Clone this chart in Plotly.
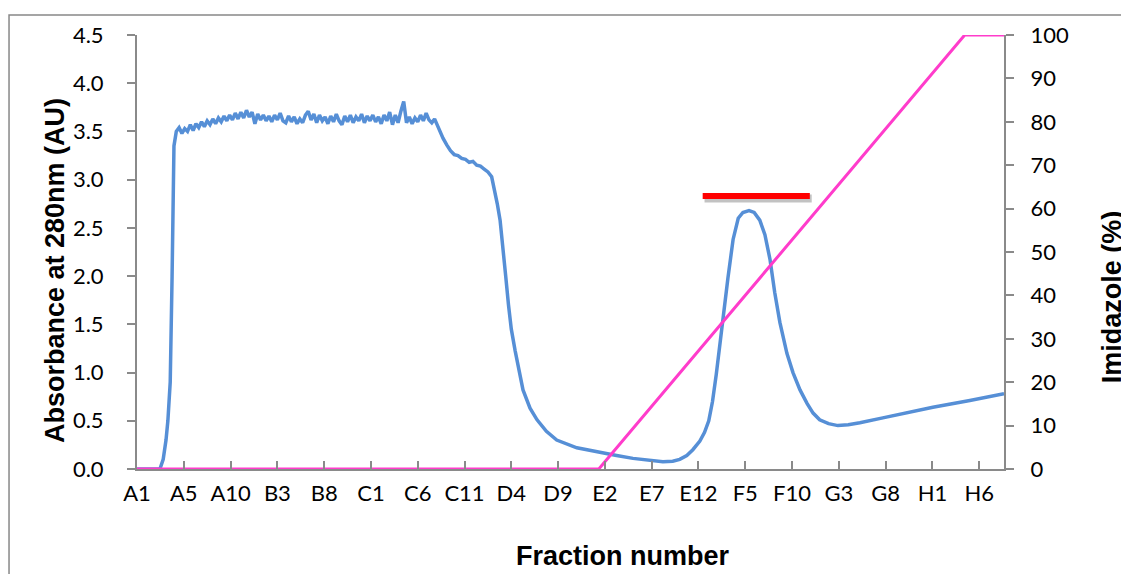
import plotly.graph_objects as go

# ---- data (x in fraction-label positions: 0 = A1, 1 = A5, ... 18 = H6) ----
fraction_labels = ["A1", "A5", "A10", "B3", "B8", "C1", "C6", "C11", "D4", "D9",
                   "E2", "E7", "E12", "F5", "F10", "G3", "G8", "H1", "H6"]
tick_positions = list(range(len(fraction_labels)))

abs_x_start = [0.00, 0.49, 0.56, 0.62, 0.66, 0.71, 0.75, 0.77, 0.79]
abs_y_start = [0.00, 0.00, 0.10, 0.30, 0.50, 0.90, 2.00, 3.00, 3.35]

abs_x_plateau = [0.84, 0.90, 0.96, 1.02, 1.08, 1.14, 1.20, 1.26, 1.32, 1.38,
                 1.44, 1.50, 1.56, 1.62, 1.68, 1.74, 1.80, 1.86, 1.92, 1.98,
                 2.04, 2.10, 2.16, 2.22, 2.28, 2.34, 2.40, 2.46, 2.52, 2.58,
                 2.64, 2.70, 2.76, 2.82, 2.88, 2.94, 3.00, 3.06, 3.12, 3.18,
                 3.24, 3.30, 3.36, 3.42, 3.48, 3.54, 3.60, 3.66, 3.72, 3.78,
                 3.84, 3.90, 3.96, 4.02, 4.08, 4.14, 4.20, 4.26, 4.32, 4.38,
                 4.44, 4.50, 4.56, 4.62, 4.68, 4.74, 4.80, 4.86, 4.92, 4.98,
                 5.04, 5.10, 5.16, 5.22, 5.28, 5.34, 5.40, 5.46, 5.52, 5.58,
                 5.64, 5.70, 5.76, 5.82, 5.88, 5.94, 6.00, 6.06, 6.12, 6.18,
                 6.24, 6.30, 6.36, 6.42, 6.48, 6.54]
abs_y_plateau = [3.50, 3.54, 3.48, 3.53, 3.50, 3.57, 3.51, 3.58, 3.54, 3.60,
                 3.55, 3.61, 3.57, 3.63, 3.58, 3.64, 3.60, 3.66, 3.61, 3.67,
                 3.62, 3.69, 3.63, 3.70, 3.64, 3.72, 3.65, 3.70, 3.58, 3.68,
                 3.62, 3.67, 3.61, 3.66, 3.60, 3.67, 3.62, 3.69, 3.61, 3.59,
                 3.66, 3.60, 3.65, 3.58, 3.63, 3.59, 3.67, 3.71, 3.62, 3.68,
                 3.59, 3.67, 3.61, 3.65, 3.58, 3.66, 3.60, 3.68, 3.61, 3.57,
                 3.66, 3.60, 3.67, 3.59, 3.65, 3.61, 3.68, 3.59, 3.66, 3.61,
                 3.67, 3.60, 3.65, 3.58, 3.67, 3.61, 3.70, 3.57, 3.67, 3.59,
                 3.71, 3.81, 3.59, 3.65, 3.58, 3.64, 3.60, 3.67, 3.61, 3.69,
                 3.62, 3.59, 3.63, 3.56, 3.50, 3.43]

abs_x_tail = [6.62, 6.70, 6.78, 6.86, 6.94, 7.02, 7.10, 7.18, 7.26, 7.34,
              7.42, 7.50, 7.58, 7.64, 7.70, 7.76, 7.82, 7.88, 7.94, 8.00,
              8.08, 8.16, 8.25, 8.40, 8.55, 8.75, 8.97, 9.40, 9.89, 10.25,
              10.60, 10.95, 11.24, 11.45, 11.60, 11.75, 11.88, 12.03, 12.13, 12.22,
              12.30, 12.38, 12.45, 12.52, 12.63, 12.74, 12.85, 12.95, 13.08, 13.19,
              13.31, 13.42, 13.53, 13.63, 13.74, 13.89, 14.02, 14.17, 14.32, 14.45,
              14.59, 14.78, 14.98, 15.20, 15.45, 15.94, 16.50, 17.01, 17.80, 18.53]
abs_y_tail = [3.36, 3.30, 3.26, 3.25, 3.22, 3.21, 3.18, 3.19, 3.15, 3.14,
              3.11, 3.08, 3.03, 2.90, 2.75, 2.58, 2.32, 2.00, 1.70, 1.45,
              1.23, 1.02, 0.82, 0.63, 0.51, 0.39, 0.30, 0.22, 0.17, 0.14,
              0.11, 0.09, 0.075, 0.08, 0.10, 0.14, 0.20, 0.29, 0.38, 0.50,
              0.70, 0.98, 1.28, 1.58, 1.98, 2.38, 2.60, 2.66, 2.68, 2.66,
              2.58, 2.43, 2.17, 1.83, 1.52, 1.20, 1.00, 0.82, 0.68, 0.58,
              0.51, 0.47, 0.45, 0.46, 0.48, 0.53, 0.59, 0.64, 0.71, 0.78]

imidazole_x = [0.00, 9.87, 17.69, 18.53]
imidazole_y = [0, 0, 100, 100]

pooled_x = [12.09, 14.38]
pooled_y = [2.83, 2.83]

abs_x = abs_x_start + abs_x_plateau + abs_x_tail
abs_y = abs_y_start + abs_y_plateau + abs_y_tail

X_MAX = 18.53

fig = go.Figure()

fig.add_trace(go.Scatter(x=abs_x, y=abs_y, mode="lines", name="A280",
                         line=dict(color="#568fd6", width=3.5), showlegend=False))
fig.add_trace(go.Scatter(x=imidazole_x, y=imidazole_y, mode="lines", name="Imidazole",
                         line=dict(color="#ff3ccb", width=3), yaxis="y2", showlegend=False))
# shadow of pooled-fraction bar
fig.add_trace(go.Scatter(x=[v + 0.04 for v in pooled_x], y=[v - 0.025 for v in pooled_y],
                         mode="lines", line=dict(color="rgba(120,120,120,0.45)", width=8),
                         showlegend=False, hoverinfo="skip"))
fig.add_trace(go.Scatter(x=pooled_x, y=pooled_y, mode="lines", name="Pooled",
                         line=dict(color="#ff0000", width=6), showlegend=False))

axis_color = "#8a8a8a"
tick_font = dict(family="Lato", size=22, color="#000000")
title_font = dict(family="Liberation Sans", size=27, color="#000000", weight="bold")

# page body adds an 8px margin, so the figure is 8px smaller and margins are shifted
fig.update_layout(
    width=1121, height=566,
    margin=dict(l=129, r=125, t=27, b=105, autoexpand=False),
    paper_bgcolor="white", plot_bgcolor="white",
    xaxis=dict(range=[0, X_MAX], tickvals=tick_positions, ticktext=fraction_labels,
               showgrid=False, zeroline=False, showline=True, linecolor=axis_color, linewidth=2,
               ticks="inside", ticklen=8, tickcolor=axis_color, tickwidth=1.5,
               tickfont=tick_font, ticklabelstandoff=4, automargin=False),
    yaxis=dict(range=[0, 4.5], tickvals=[0, 0.5, 1, 1.5, 2, 2.5, 3, 3.5, 4, 4.5],
               tickformat=".1f", showgrid=False, zeroline=False, showline=True,
               linecolor=axis_color, linewidth=2, ticks="outside", ticklen=8,
               tickcolor=axis_color, tickwidth=1.5, tickfont=tick_font, ticklabelstandoff=19,
               automargin=False),
    yaxis2=dict(range=[0, 100], tickvals=list(range(0, 101, 10)), overlaying="y", side="right",
                showgrid=False, zeroline=False, showline=True, linecolor=axis_color, linewidth=2,
                ticks="outside", ticklen=8, tickcolor=axis_color, tickwidth=1.5,
                tickfont=tick_font, ticklabelstandoff=12, automargin=False),
    shapes=[dict(type="rect", xref="paper", yref="paper", x0=-0.1476, x1=1.3, y0=-0.6, y1=1.046,
                 line=dict(color="#888888", width=1.5), fillcolor="rgba(0,0,0,0)", layer="below")],
    annotations=[
        dict(text="Absorbance at 280nm (AU)", xref="paper", yref="paper", x=-0.0946, y=0.4585,
             textangle=-90, showarrow=False, font=title_font, xanchor="center", yanchor="middle"),
        dict(text="Imidazole (%)", xref="paper", yref="paper", x=1.1246, y=0.396,
             textangle=-90, showarrow=False, font=title_font, xanchor="center", yanchor="middle"),
        dict(text="Fraction number", xref="paper", yref="paper", x=0.5606, y=-0.2005,
             showarrow=False, font=title_font, xanchor="center", yanchor="middle"),
    ],
)

fig.write_html("out.html")
